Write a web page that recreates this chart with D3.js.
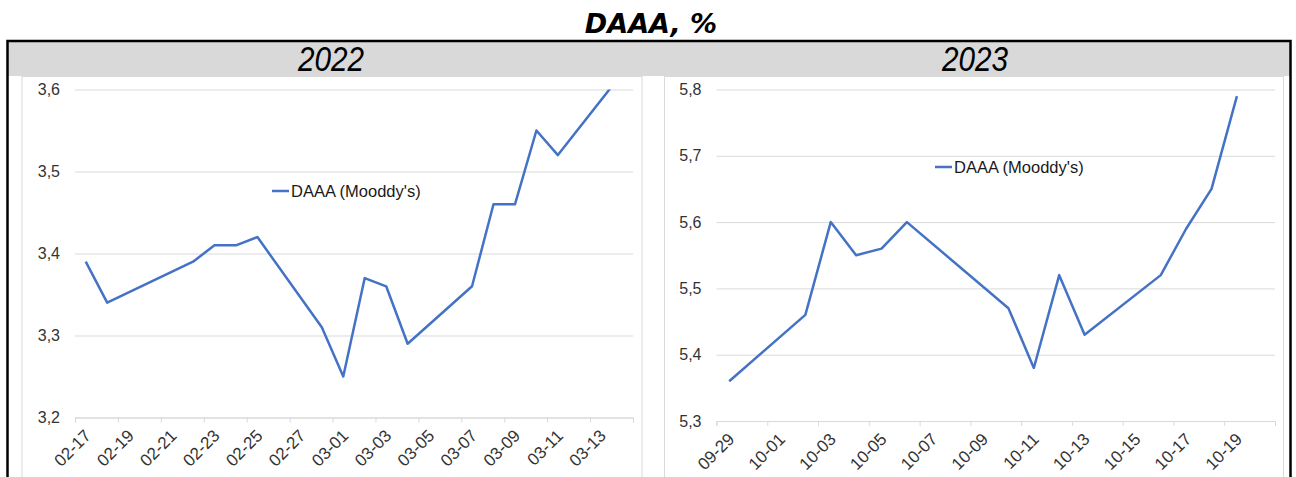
<!DOCTYPE html>
<html>
<head>
<meta charset="utf-8">
<script src="https://cdn.jsdelivr.net/npm/d3@7"></script>
<style>
	body { margin: 0; background: #fff; }
	svg { display: block; }
</style>
</head>
<body>
<script>
// data (Moody's Aaa yield, %)
const dates2022 = ['2022-02-17', '2022-02-18', '2022-02-22', '2022-02-23', '2022-02-24', '2022-02-25',
	'2022-02-28', '2022-03-01', '2022-03-02', '2022-03-03', '2022-03-04', '2022-03-07', '2022-03-08',
	'2022-03-09', '2022-03-10', '2022-03-11', '2022-03-14'];
const values2022 = [3.39, 3.34, 3.39, 3.41, 3.41, 3.42, 3.31, 3.25, 3.37, 3.36, 3.29, 3.36, 3.46,
	3.46, 3.55, 3.52, 3.62];

const dates2023 = ['2023-09-29', '2023-10-02', '2023-10-03', '2023-10-04', '2023-10-05', '2023-10-06',
	'2023-10-10', '2023-10-11', '2023-10-12', '2023-10-13', '2023-10-16', '2023-10-17', '2023-10-18',
	'2023-10-19'];
const values2023 = [5.36, 5.46, 5.60, 5.55, 5.56, 5.60, 5.47, 5.38, 5.52, 5.43, 5.52, 5.59, 5.65, 5.79];

const ticks2022 = ['02-17', '02-19', '02-21', '02-23', '02-25', '02-27', '03-01', '03-03', '03-05',
	'03-07', '03-09', '03-11', '03-13'];
const ticks2023 = ['09-29', '10-01', '10-03', '10-05', '10-07', '10-09', '10-11', '10-13', '10-15',
	'10-17', '10-19'];

const yTicks2022 = [3.2, 3.3, 3.4, 3.5, 3.6];
const yTicks2023 = [5.3, 5.4, 5.5, 5.6, 5.7, 5.8];

const TITLE = 'DAAA, %';
const SERIES_NAME = "DAAA (Mooddy's)";

const LINE_COLOR = '#4472c4';
const GRID_COLOR = '#d9d9d9';
const TEXT_COLOR = '#333';
const DAY = 864e5;

const width = 1296;
const height = 477;

const locale = d3.formatLocale({ decimal: ',', thousands: ' ', grouping: [3], currency: ['', ''] });
const fmt = locale.format('.1f');
const parse = d3.utcParse('%Y-%m-%d');

const svg = d3.select('body')
	.append('svg')
	.attr('width', width)
	.attr('height', height);

// title
svg.append('text')
	.attr('x', 651)
	.attr('y', 33)
	.attr('text-anchor', 'middle')
	.style('font-family', 'DejaVu Sans, Verdana, sans-serif')
	.style('font-weight', 'bold')
	.style('font-style', 'italic')
	.style('font-size', '27px')
	.text(TITLE);

// header band and outer frame
svg.append('rect')
	.attr('x', 8).attr('y', 42).attr('width', 1282).attr('height', 34)
	.attr('fill', '#d9d9d9');
svg.append('rect')
	.attr('x', 7.5).attr('y', 41).attr('width', 1283).attr('height', 460)
	.attr('fill', 'none')
	.attr('stroke', '#000')
	.attr('stroke-width', 2.5);

const panels = [
	{
		year: '2022', dates: dates2022, values: values2022, ticks: ticks2022, yTicks: yTicks2022,
		frame: [22, 642], plot: [75, 633], yRange: [417.5, 89.5], legend: [272, 191], header: 331
	},
	{
		year: '2023', dates: dates2023, values: values2023, ticks: ticks2023, yTicks: yTicks2023,
		frame: [664.5, 1283.5], plot: [716.5, 1275], yRange: [421, 89.5], legend: [935, 167], header: 975
	}
];

panels.forEach((p, i) => drawPanel(p, i));

function drawPanel(p, idx) {
	const year = +p.year;
	const firstDay = parse(year + '-' + p.ticks[0]);
	const nDays = p.ticks.length * 2;
	const lastDay = new Date(+firstDay + nDays * DAY);

	const x = d3.scaleUtc()
		.domain([firstDay, lastDay])
		.range(p.plot);
	const y = d3.scaleLinear()
		.domain(d3.extent(p.yTicks))
		.range(p.yRange);

	// header text (condensed italic)
	svg.append('text')
		.attr('x', p.header)
		.attr('y', 71)
		.attr('text-anchor', 'middle')
		.attr('textLength', 66)
		.attr('lengthAdjust', 'spacingAndGlyphs')
		.style('font-family', 'Liberation Sans, Arial, sans-serif')
		.style('font-style', 'italic')
		.style('font-size', '35px')
		.attr('fill', '#000')
		.text(p.year);

	// panel frame
	svg.append('rect')
		.attr('x', p.frame[0]).attr('y', 76.5)
		.attr('width', p.frame[1] - p.frame[0]).attr('height', 420)
		.attr('fill', 'none')
		.attr('stroke', GRID_COLOR)
		.attr('stroke-width', 1);

	const g = svg.append('g');

	// y grid + labels
	const yAxis = g.append('g')
		.attr('transform', `translate(${p.plot[0]},0)`)
		.call(d3.axisLeft(y)
			.tickValues(p.yTicks)
			.tickSize(-(p.plot[1] - p.plot[0]))
			.tickPadding(15)
			.tickFormat(fmt));
	yAxis.select('.domain').remove();
	yAxis.selectAll('line').attr('stroke', GRID_COLOR);
	yAxis.selectAll('text')
		.attr('fill', TEXT_COLOR)
		.style('font-family', 'Liberation Sans, Arial, sans-serif')
		.style('font-size', '16px');

	// x tick marks at day boundaries every 2 days
	const bounds = d3.range(p.ticks.length + 1).map(k => new Date(+firstDay + k * 2 * DAY));
	const xAxis = g.append('g')
		.attr('transform', `translate(0,${p.yRange[0]})`)
		.call(d3.axisBottom(x)
			.tickValues(bounds)
			.tickSize(5)
			.tickFormat(''));
	xAxis.selectAll('line, path').attr('stroke', GRID_COLOR);

	// x labels at day centres
	g.append('g')
		.selectAll('text')
		.data(p.ticks)
		.enter()
		.append('text')
		.attr('transform', d => {
			const cx = x(new Date(+parse(year + '-' + d) + DAY / 2));
			return `translate(${cx + 2},${p.yRange[0] + 15}) rotate(-45)`;
		})
		.attr('text-anchor', 'end')
		.attr('dy', '0.35em')
		.attr('fill', TEXT_COLOR)
		.style('font-family', 'Liberation Sans, Arial, sans-serif')
		.style('font-size', '17px')
		.text(d => d);

	// line, clipped to the plot area
	const clipId = 'clip-' + idx;
	svg.append('clipPath')
		.attr('id', clipId)
		.append('rect')
		.attr('x', p.plot[0]).attr('y', p.yRange[1])
		.attr('width', p.plot[1] - p.plot[0]).attr('height', p.yRange[0] - p.yRange[1]);

	const points = p.dates.map((d, i) => ({ date: new Date(+parse(d) + DAY / 2), value: p.values[i] }));
	const line = d3.line()
		.x(d => x(d.date))
		.y(d => y(d.value));

	g.append('path')
		.datum(points)
		.attr('clip-path', `url(#${clipId})`)
		.attr('d', line)
		.attr('fill', 'none')
		.attr('stroke', LINE_COLOR)
		.attr('stroke-width', 2.5)
		.attr('stroke-linejoin', 'round');

	// legend
	const lg = g.append('g').attr('transform', `translate(${p.legend[0]},${p.legend[1]})`);
	lg.append('line')
		.attr('x1', 0).attr('x2', 17)
		.attr('stroke', LINE_COLOR)
		.attr('stroke-width', 2.5);
	lg.append('text')
		.attr('x', 19)
		.attr('dy', '0.35em')
		.attr('fill', '#1a1a1a')
		.style('font-family', 'Liberation Sans, Arial, sans-serif')
		.style('font-size', '16.5px')
		.text(SERIES_NAME);
}
</script>
</body>
</html>
